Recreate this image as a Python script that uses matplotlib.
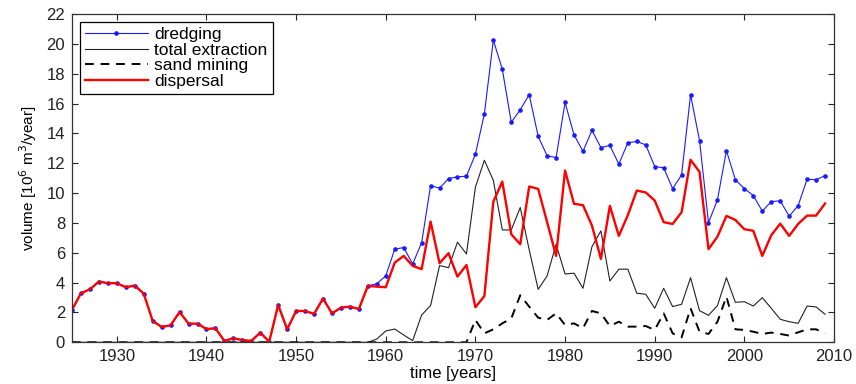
import numpy as np
import matplotlib
matplotlib.use("Agg")
import matplotlib.pyplot as plt

plt.rcParams['font.family'] = ['Liberation Sans', 'DejaVu Sans']

years = np.arange(1925, 2010)

dredging = [2.17, 3.29, 3.55, 4.07, 3.96, 3.96, 3.69, 3.80, 3.26, 1.43,
            1.03, 1.14, 2.03, 1.25, 1.25, 0.89, 0.94, 0.09, 0.27, 0.15,
            0.09, 0.65, 0.04, 2.50, 0.87, 2.10, 2.10, 1.90, 2.93, 1.94,
            2.32, 2.39, 2.23, 3.78, 3.93, 4.45, 6.24, 6.35, 5.25, 6.66,
            10.50, 10.33, 10.97, 11.09, 11.13, 12.60, 15.31, 20.25, 18.30, 14.75,
            15.58, 16.60, 13.80, 12.50, 12.38, 16.07, 13.90, 12.80, 14.20, 13.05,
            13.19, 11.94, 13.37, 13.46, 13.23, 11.78, 11.69, 10.30, 11.22, 16.59,
            13.52, 8.02, 9.54, 12.85, 10.89, 10.30, 9.83, 8.79, 9.43, 9.48,
            8.45, 9.16, 10.93, 10.89, 11.17]

total_extraction = [0] * 34 + [
    0.22, 0.76, 0.89, 0.49, 0.11, 1.83, 2.46, 5.14, 5.00, 6.71,
    5.92, 10.40, 12.20, 10.85, 7.53, 7.53, 9.03, 6.20, 3.55, 4.45,
    6.57, 4.58, 4.63, 3.62, 6.41, 7.47, 4.11, 4.90, 4.90, 3.29,
    3.22, 2.28, 3.62, 2.39, 2.55, 4.33, 2.12, 1.81, 2.46, 4.33,
    2.68, 2.72, 2.43, 2.99, 2.28, 1.54, 1.38, 1.27, 2.43, 2.37,
    1.88]

sand_mining = [0] * 45 + [
    1.50, 0.60, 0.87, 1.27, 1.60, 3.15, 2.39, 1.65, 1.50, 1.94,
    1.16, 1.27, 0.94, 2.10, 1.94, 1.09, 1.38, 1.05, 1.05, 1.09,
    0.83, 1.94, 0.60, 0.33, 2.28, 0.71, 0.56, 1.38, 3.06, 0.87,
    0.83, 0.71, 0.56, 0.65, 0.56, 0.45, 0.67, 0.87, 0.87, 0.60]

dispersal = dredging[:34] + [
    3.73, 3.69, 5.34, 5.79, 5.12, 4.90, 8.09, 5.30, 5.97, 4.40,
    5.18, 2.35, 3.10, 9.43, 10.77, 7.24, 6.57, 10.44, 10.28, 8.05,
    5.79, 11.51, 9.28, 9.19, 7.82, 5.59, 9.14, 7.13, 8.52, 10.17,
    10.04, 9.50, 8.05, 7.93, 8.72, 12.23, 11.42, 6.24, 7.08, 8.47,
    8.20, 7.58, 7.47, 5.79, 7.17, 7.95, 7.13, 7.93, 8.49, 8.49,
    9.30]

fig = plt.figure(figsize=(8.56, 3.84), dpi=100)
ax = fig.add_axes([72 / 856, 1 - 342.3 / 384, (834 - 72) / 856, (342.3 - 14) / 384])

ax.plot(years, dredging, color='#1a1aff', lw=0.8, marker='o', ms=2.3,
        label='dredging')
ax.plot(years, total_extraction, color='#222222', lw=0.8,
        label='total extraction')
ax.plot(years, sand_mining, color='black', lw=1.4, dashes=(4.5, 3.5),
        label='sand mining')
ax.plot(years, dispersal, color='#ff0000', lw=1.7, label='dispersal')

ax.set_xlim(1925, 2010)
ax.set_ylim(0, 22)
ax.set_xticks(np.arange(1930, 2011, 10))
ax.set_yticks(np.arange(0, 23, 2))
ax.tick_params(direction='in', length=4, width=0.8, top=True, right=True,
               labelsize=12, colors='#222222', pad=5)
for s in ax.spines.values():
    s.set_color('#333333')
    s.set_linewidth(0.9)

ax.set_xlabel('time [years]', fontsize=12, labelpad=1)
ax.set_ylabel('volume [10$^{6}$ m$^{3}$/year]', fontsize=11, labelpad=5)

leg = ax.legend(loc='upper left', fontsize=12.5, handlelength=3.6,
                handletextpad=0.4, labelspacing=0.02, borderaxespad=0.45,
                fancybox=False, framealpha=1, edgecolor='black',
                borderpad=0.3)
leg.get_frame().set_linewidth(0.9)

fig.savefig('out.png', dpi=100)
